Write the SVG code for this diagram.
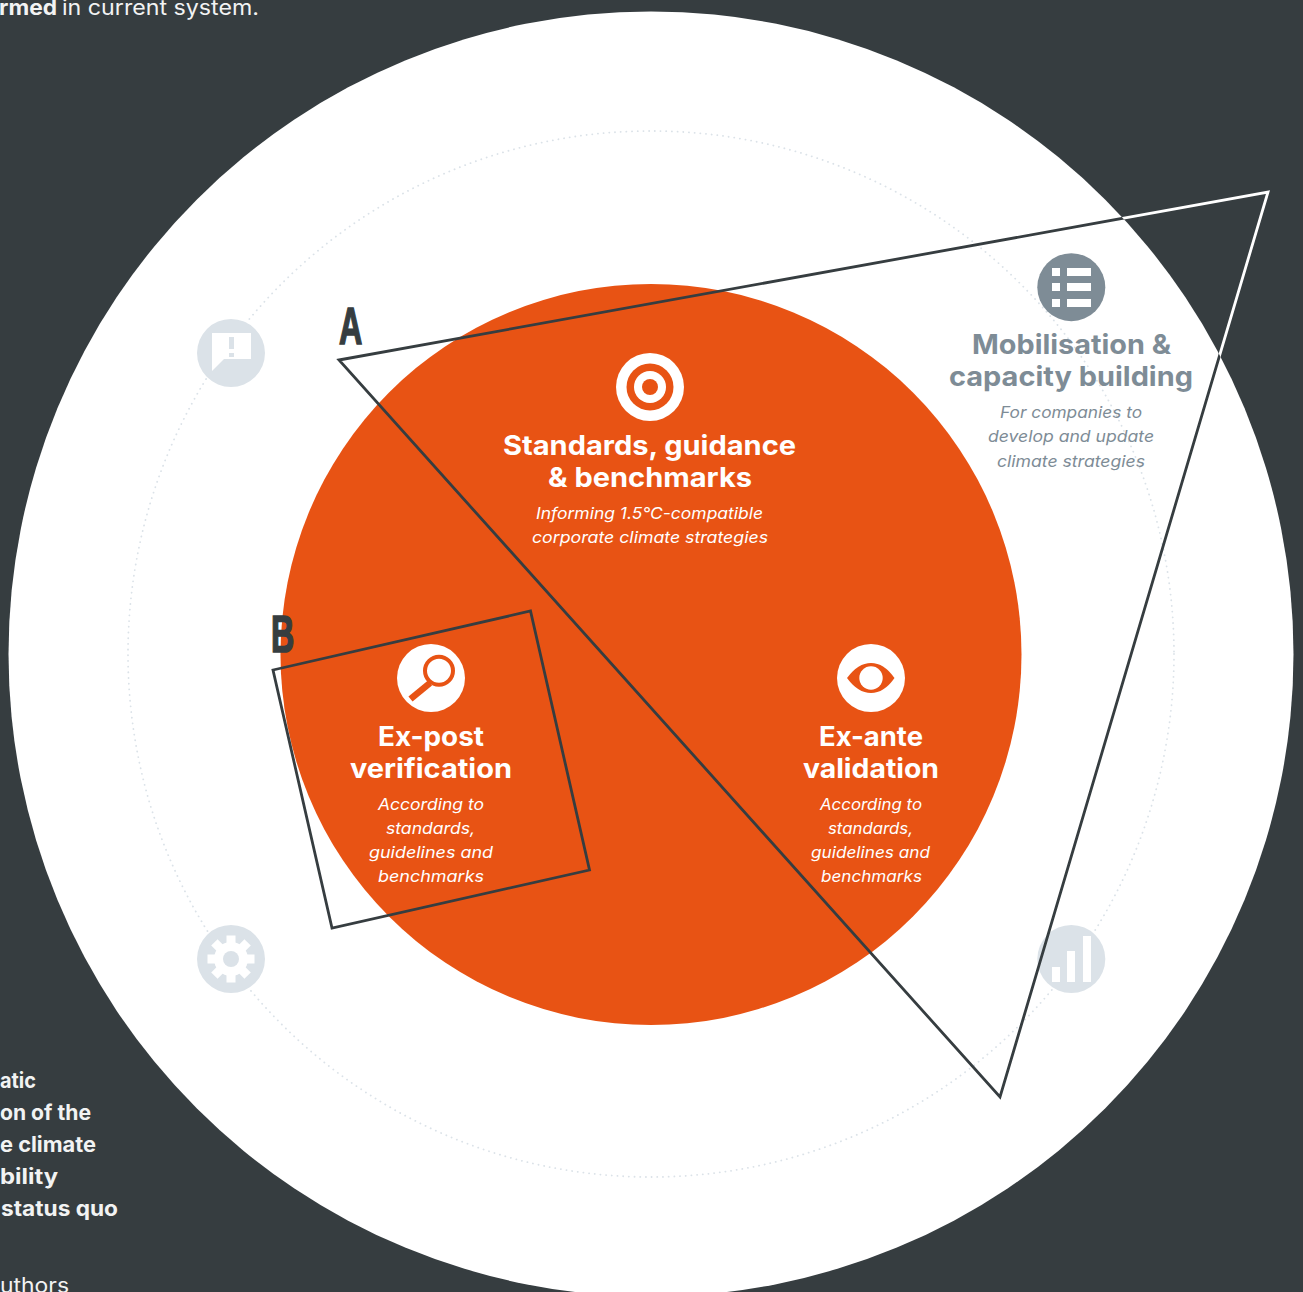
<svg xmlns="http://www.w3.org/2000/svg" width="1303" height="1292" viewBox="0 0 1303 1292">
<style>
text{font-family:"Inter","Liberation Sans",sans-serif;text-anchor:middle}
.t{font-size:27px;font-weight:700;fill:#fff}
.s{font-size:16.5px;font-style:italic;fill:#fff}
.g{fill:#7e8c96}
.side{font-size:21px;fill:#f2f3f3;text-anchor:start}
.b{font-weight:700}
.letter{font-family:"Liberation Sans",sans-serif;font-weight:700;font-size:52px;fill:#363d40;stroke:#363d40;stroke-width:1.6;text-anchor:start}
.shape{fill:none;stroke-width:2.8;stroke-linejoin:miter}
.icon{fill:#dbe2e8}
.o{fill:#e85314}
.w{fill:#fff}
</style>
<defs>
<clipPath id="disc"><circle cx="651" cy="654" r="642.5"/></clipPath>
</defs>
<rect width="1303" height="1292" fill="#363d40"/>
<g id="side-text">
<text class="side b" x="-1" y="15" textLength="58" lengthAdjust="spacingAndGlyphs">rmed</text>
<text class="side" x="62" y="15" textLength="197" lengthAdjust="spacingAndGlyphs">in current system.</text>
<text class="side b" x="0" y="1088" textLength="36" lengthAdjust="spacingAndGlyphs">atic</text>
<text class="side b" x="0" y="1120" textLength="91" lengthAdjust="spacingAndGlyphs">on of the</text>
<text class="side b" x="0" y="1152" textLength="96" lengthAdjust="spacingAndGlyphs">e climate</text>
<text class="side b" x="0" y="1184" textLength="58" lengthAdjust="spacingAndGlyphs">bility</text>
<text class="side b" x="1" y="1216" textLength="117" lengthAdjust="spacingAndGlyphs">status quo</text>
<text class="side" x="0" y="1293" textLength="69" lengthAdjust="spacingAndGlyphs">uthors</text>
</g>
<polygon class="shape" points="339,360 1268,192 1000,1097" stroke="#fff"/>
<circle id="outer-disc" cx="651" cy="654" r="642.5" fill="#fff"/>
<circle id="dotted-ring" cx="651" cy="654" r="523" fill="none" stroke="#dbe2e8" stroke-width="1.800" stroke-linecap="round" stroke-dasharray="0.1 5.6"/>
<circle id="core" cx="651" cy="654.5" r="370.5" fill="#e85314"/>

<g id="node-standards">
<circle class="w" cx="650" cy="387" r="34"/><circle class="o" cx="650" cy="387" r="23.5"/><circle class="w" cx="650" cy="387" r="16"/><circle class="o" cx="650" cy="387" r="8"/>
<text class="t" x="649.5" y="455" textLength="293" lengthAdjust="spacingAndGlyphs">Standards, guidance</text>
<text class="t" x="650" y="487" textLength="204" lengthAdjust="spacingAndGlyphs">&amp; benchmarks</text>
<text class="s" x="649.5" y="519" textLength="227" lengthAdjust="spacingAndGlyphs">Informing 1.5°C-compatible</text>
<text class="s" x="650" y="543" textLength="236" lengthAdjust="spacingAndGlyphs">corporate climate strategies</text>
</g>

<g id="node-expost">
<circle class="w" cx="431" cy="678" r="34"/>
<circle cx="439" cy="670.7" r="14" fill="#fff" stroke="#e85314" stroke-width="4"/>
<line x1="430" y1="683" x2="410.500" y2="699" stroke="#e85314" stroke-width="6.500"/>
<text class="t" x="431" y="746" textLength="106" lengthAdjust="spacingAndGlyphs">Ex-post</text>
<text class="t" x="431" y="778" textLength="162" lengthAdjust="spacingAndGlyphs">verification</text>
<text class="s" x="431" y="810" textLength="106" lengthAdjust="spacingAndGlyphs">According to</text>
<text class="s" x="430.500" y="834" textLength="89" lengthAdjust="spacingAndGlyphs">standards,</text>
<text class="s" x="431" y="858" textLength="124" lengthAdjust="spacingAndGlyphs">guidelines and</text>
<text class="s" x="431" y="882" textLength="106" lengthAdjust="spacingAndGlyphs">benchmarks</text>
</g>

<g id="node-exante">
<circle class="w" cx="871" cy="678" r="34"/>
<path class="o" d="M847 678Q858 663 871 663Q884 663 894.500 678Q884 693 871 693Q858 693 847 678Z"/>
<circle class="w" cx="871" cy="678" r="11.700"/>
<text class="t" x="871" y="746" textLength="104" lengthAdjust="spacingAndGlyphs">Ex-ante</text>
<text class="t" x="871" y="778" textLength="136" lengthAdjust="spacingAndGlyphs">validation</text>
<text class="s" x="871" y="810" textLength="102" lengthAdjust="spacingAndGlyphs">According to</text>
<text class="s" x="870.500" y="834" textLength="85" lengthAdjust="spacingAndGlyphs">standards,</text>
<text class="s" x="870.500" y="858" textLength="119" lengthAdjust="spacingAndGlyphs">guidelines and</text>
<text class="s" x="871.500" y="882" textLength="101" lengthAdjust="spacingAndGlyphs">benchmarks</text>
</g>

<g id="node-mobilisation">
<circle class="g" cx="1071.300" cy="287.200" r="34"/>
<path class="w" d="M1052 268h8v8h-8zM1052 283h8v8h-8zM1052 299h8v8h-8zM1067 268h24v8h-24zM1067 283h24v8h-24zM1067 299h24v8h-24z"/>
<text class="t g" x="1071.500" y="354" textLength="199" lengthAdjust="spacingAndGlyphs" style="fill:#7e8c96">Mobilisation &amp;</text>
<text class="t g" x="1071" y="386" textLength="244" lengthAdjust="spacingAndGlyphs" style="fill:#7e8c96">capacity building</text>
<text class="s" x="1071" y="418" textLength="142" lengthAdjust="spacingAndGlyphs" style="fill:#7e8c96">For companies to</text>
<text class="s" x="1071" y="442" textLength="166" lengthAdjust="spacingAndGlyphs" style="fill:#7e8c96">develop and update</text>
<text class="s" x="1071" y="467" textLength="148" lengthAdjust="spacingAndGlyphs" style="fill:#7e8c96">climate strategies</text>
</g>

<g id="node-speech">
<circle class="icon" cx="231" cy="353" r="34"/>
<path class="w" d="M212 333h39v26h-27l-12 12z"/>
<path class="icon" d="M229 337h5v12h-5zM229 353h5v4h-5z"/>
</g>

<g id="node-gear">
<circle class="icon" cx="231" cy="959" r="34"/>
<g class="w">
<circle cx="231" cy="959" r="17"/>
<rect x="226.500" y="935.500" width="9" height="47"/>
<rect x="226.500" y="935.500" width="9" height="47" transform="rotate(45 231 959)"/>
<rect x="226.500" y="935.500" width="9" height="47" transform="rotate(90 231 959)"/>
<rect x="226.500" y="935.500" width="9" height="47" transform="rotate(135 231 959)"/>
</g>
<circle class="icon" cx="231" cy="959" r="8"/>
</g>

<g id="node-bars">
<circle class="icon" cx="1071.300" cy="959" r="34"/>
<path class="w" d="M1052 967h8v15h-8zM1067 951h8v31h-8zM1083 936h8v46h-8z"/>
</g>

<g id="outlines" clip-path="url(#disc)">
<polygon id="triangle-a" class="shape" points="339,360 1268,192 1000,1097" stroke="#363d40"/>
<polygon id="square-b" class="shape" points="273,670 530.500,611 589.500,870 332,928" stroke="#363d40"/>
</g>
<text id="label-a" class="letter" transform="translate(339 344) scale(0.62 1)">A</text>
<text id="label-b" class="letter" transform="translate(271 652) scale(0.62 1)">B</text>
</svg>
